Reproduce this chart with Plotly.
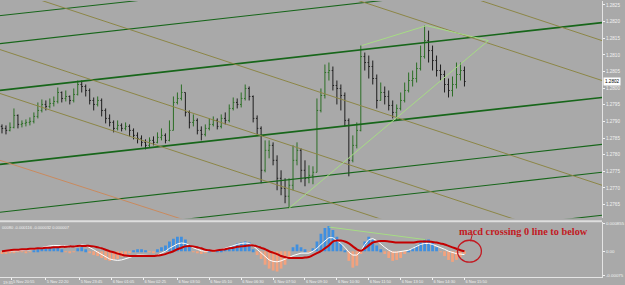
import pandas as pd
import plotly.graph_objects as go

# ---------------- data ----------------
bar_start = "2012-11-05 20:30"   # 10-minute bars
first_open = 1.27885
closes = [
    1.27879, 1.27873, 1.27882, 1.27918, 1.27891, 1.27894, 1.27897, 1.27900, 1.27915, 1.27933,
    1.27951, 1.27945, 1.27954, 1.27960, 1.27987, 1.27969, 1.27975, 1.27963, 1.27981, 1.28011,
    1.28005, 1.27993, 1.27963, 1.27951, 1.27963, 1.27933, 1.27909, 1.27897, 1.27879, 1.27888,
    1.27879, 1.27885, 1.27873, 1.27858, 1.27849, 1.27837, 1.27828, 1.27843, 1.27837, 1.27852,
    1.27858, 1.27843, 1.27873, 1.27957, 1.27969, 1.27987, 1.27927, 1.27897, 1.27903, 1.27873,
    1.27861, 1.27879, 1.27891, 1.27903, 1.27885, 1.27909, 1.27903, 1.27939, 1.27957, 1.27951,
    1.27969, 1.27999, 1.27975, 1.27909, 1.27879, 1.27753, 1.27813, 1.27828, 1.27783, 1.27729,
    1.27699, 1.27675, 1.27708, 1.27783, 1.27813, 1.27753, 1.27729, 1.27738, 1.27747, 1.27933,
    1.27978, 1.28047, 1.28053, 1.28008, 1.27999, 1.27978, 1.27903, 1.27783, 1.27828, 1.27873,
    1.28095, 1.28077, 1.28065, 1.28029, 1.27963, 1.27987, 1.27975, 1.27948, 1.27927, 1.27939,
    1.27963, 1.27993, 1.28023, 1.28029, 1.28059, 1.28095, 1.28143, 1.28113, 1.28083, 1.28053,
    1.28041, 1.28011, 1.27993, 1.28011, 1.28041, 1.28053, 1.28020,
]
highs = [
    1.27891, 1.27888, 1.27897, 1.27939, 1.27921, 1.27903, 1.27906, 1.27912, 1.27927, 1.27957,
    1.27966, 1.27963, 1.27969, 1.27975, 1.28002, 1.27990, 1.27993, 1.27978, 1.27999, 1.28023,
    1.28023, 1.28011, 1.27999, 1.27972, 1.27975, 1.27969, 1.27939, 1.27921, 1.27903, 1.27903,
    1.27894, 1.27897, 1.27891, 1.27879, 1.27867, 1.27858, 1.27846, 1.27852, 1.27855, 1.27867,
    1.27879, 1.27864, 1.27903, 1.27975, 1.27987, 1.28011, 1.27987, 1.27933, 1.27921, 1.27909,
    1.27885, 1.27891, 1.27909, 1.27915, 1.27909, 1.27921, 1.27927, 1.27951, 1.27972, 1.27969,
    1.27987, 1.28011, 1.28005, 1.27978, 1.27918, 1.27885, 1.27843, 1.27843, 1.27837, 1.27798,
    1.27753, 1.27729, 1.27729, 1.27828, 1.27837, 1.27819, 1.27783, 1.27768, 1.27765, 1.27969,
    1.27999, 1.28071, 1.28077, 1.28065, 1.28023, 1.28011, 1.27987, 1.27909, 1.27858, 1.27897,
    1.28128, 1.28107, 1.28098, 1.28083, 1.28041, 1.28017, 1.28005, 1.27993, 1.27963, 1.27951,
    1.27987, 1.28017, 1.28047, 1.28053, 1.28077, 1.28128, 1.28188, 1.28173, 1.28128, 1.28098,
    1.28071, 1.28053, 1.28029, 1.28035, 1.28077, 1.28077, 1.28065,
]
lows = [
    1.27864, 1.27861, 1.27870, 1.27879, 1.27879, 1.27882, 1.27885, 1.27888, 1.27894, 1.27909,
    1.27927, 1.27933, 1.27939, 1.27945, 1.27954, 1.27957, 1.27960, 1.27951, 1.27957, 1.27978,
    1.27987, 1.27975, 1.27951, 1.27933, 1.27945, 1.27915, 1.27894, 1.27885, 1.27867, 1.27873,
    1.27870, 1.27873, 1.27855, 1.27846, 1.27834, 1.27825, 1.27816, 1.27822, 1.27828, 1.27834,
    1.27843, 1.27834, 1.27840, 1.27873, 1.27951, 1.27963, 1.27915, 1.27879, 1.27885, 1.27861,
    1.27843, 1.27855, 1.27873, 1.27885, 1.27876, 1.27879, 1.27891, 1.27897, 1.27933, 1.27939,
    1.27942, 1.27963, 1.27963, 1.27897, 1.27861, 1.27714, 1.27747, 1.27789, 1.27768, 1.27693,
    1.27678, 1.27654, 1.27639, 1.27693, 1.27768, 1.27717, 1.27705, 1.27714, 1.27711, 1.27747,
    1.27927, 1.27969, 1.28023, 1.27993, 1.27951, 1.27933, 1.27885, 1.27735, 1.27777, 1.27819,
    1.27870, 1.28053, 1.28029, 1.28011, 1.27939, 1.27963, 1.27951, 1.27933, 1.27909, 1.27903,
    1.27933, 1.27957, 1.27987, 1.28005, 1.28017, 1.28053, 1.28089, 1.28077, 1.28053, 1.28035,
    1.28023, 1.27987, 1.27972, 1.27975, 1.27999, 1.28023, 1.28005,
]
macd_hist = [
    -0.00009, -0.00009, -0.00006, -0.00006, -0.00003, -0.00003, -0.00006, -0.00003, 0.000015, 0.00006,
    0.00009, 0.00012, 0.00012, 0.00009, 0.00012, 0.00006, -0.00003, -0.00006, -0.00003, 0.00009,
    0.00012, 0.00006, -0.00006, -0.00012, -0.00015, -0.00021, -0.00027, -0.0003, -0.00027, -0.00024,
    -0.00018, -0.00012, -0.00006, 0.00003, 0.00006, 0.00006, 0.00003, -0.00003, -0.00006, 0.00006,
    0.00012, 0.00018, 0.0003, 0.00039, 0.00045, 0.00045, 0.00036, 0.00018, -0.00003, -0.00006,
    -0.00009, -0.00006, 0.00003, -0.00003, 0.00003, 0.00006, 0.00009, 0.00012, 0.00018, 0.00024,
    0.00027, 0.0003, 0.00027, 0.00006, -0.00012, -0.00024, -0.00042, -0.00054, -0.0006, -0.00063,
    -0.00054, -0.00042, -0.00018, 0.00012, 0.00021, 0.00012, 0.00006, -0.00003, 0.00009, 0.0003,
    0.00054, 0.00072, 0.00078, 0.00066, 0.00045, 0.00024, 0.00001, -0.0003, -0.00051, -0.00045,
    -0.00009, 0.0003, 0.00045, 0.00036, 0.00018, 0.00006, -0.00009, -0.00021, -0.0003, -0.00027,
    -0.00021, -0.00009, 0.00003, 0.00009, 0.00018, 0.00027, 0.00036, 0.00036, 0.00027, 0.00012,
    -0.00003, -0.00015, -0.00027, -0.00033, -0.00027, -0.00018, -0.00009,
]
macd_main = [
    0.0, 0.0, 0.0, 0.000015, 0.000015, 0.00003, 0.00003, 0.000045, 0.00006, 0.00009,
    0.00012, 0.00015, 0.000165, 0.00018, 0.00018, 0.00018, 0.000165, 0.00015, 0.00015, 0.00018,
    0.000195, 0.00018, 0.00012, 0.000045, -0.00003, -0.000105, -0.00018, -0.00024, -0.00027, -0.000285,
    -0.00027, -0.00024, -0.000195, -0.00015, -0.00012, -0.00012, -0.00012, -0.000135, -0.00015, -0.00012,
    -0.00006, 0.0, 0.00009, 0.000165, 0.000225, 0.000255, 0.00024, 0.00018, 0.000105, 0.00006,
    0.000015, 0.0, 0.000015, 0.000015, 0.00003, 0.00006, 0.00009, 0.000135, 0.00018, 0.00021,
    0.00024, 0.000255, 0.00024, 0.000165, 0.00006, -0.00006, -0.00018, -0.00027, -0.000315, -0.00033,
    -0.0003, -0.000255, -0.000195, -0.000135, -0.00009, -0.00006, -0.00006, -0.00006, 0.0, 0.00009,
    0.00021, 0.00033, 0.00042, 0.00042, 0.00033, 0.00024, 0.00012, -0.00003, -0.00012, -0.00012,
    0.0, 0.00021, 0.00036, 0.00039, 0.00033, 0.00021, 0.00012, 0.00003, -0.00003, -0.00003,
    -0.000015, 0.0, 0.00003, 0.00009, 0.00015, 0.00021, 0.00024, 0.00024, 0.00021, 0.000165,
    0.00012, 0.00006, 0.0, -0.000045, -0.000075, -0.00009, -0.000105,
]
macd_signal = [
    0.0, 0.000015, 0.00003, 0.000045, 0.000045, 0.00006, 0.00006, 0.000075, 0.000075, 0.00009,
    0.00009, 0.000105, 0.000105, 0.00012, 0.00012, 0.000135, 0.000135, 0.00015, 0.00015, 0.000165,
    0.000165, 0.000165, 0.000165, 0.00015, 0.00012, 0.00009, 0.000045, 0.0, -0.00003, -0.000075,
    -0.000105, -0.000135, -0.00015, -0.00015, -0.00015, -0.00015, -0.00015, -0.00015, -0.00015, -0.000135,
    -0.00012, -0.00009, -0.000045, 0.0, 0.00006, 0.000105, 0.00015, 0.000165, 0.00015, 0.00012,
    0.00009, 0.000045, 0.00003, 0.000015, 0.00003, 0.000045, 0.00006, 0.00009, 0.000105, 0.000135,
    0.00015, 0.000165, 0.00018, 0.00018, 0.00015, 0.000105, 0.00006, 0.0, -0.000045, -0.00009,
    -0.00015, -0.00018, -0.00021, -0.00021, -0.00021, -0.00021, -0.000195, -0.00018, -0.00012, -0.00006,
    0.0, 0.00009, 0.00018, 0.0003, 0.00033, 0.00033, 0.0003, 0.00024, 0.00015, 0.00006,
    0.000015, 0.00009, 0.00018, 0.00027, 0.0003, 0.000315, 0.000315, 0.0003, 0.000285, 0.00027,
    0.00027, 0.00027, 0.00027, 0.00027, 0.000285, 0.0003, 0.0003, 0.0003, 0.000285, 0.00027,
    0.00024, 0.00021, 0.000165, 0.00012, 0.000075, 0.00003, 0.0,
]

price_ticks = [1.2765, 1.2770, 1.2775, 1.2780, 1.2785, 1.2790, 1.2795, 1.2800,
               1.2805, 1.2810, 1.2815, 1.2820, 1.2825]
macd_ticks = [0.000855, 0.0, -0.00075]
macd_tick_text = ["0.000855", "0.00", "-0.00075"]
time_ticks = ["2012-11-05 20:55", "2012-11-05 22:20", "2012-11-05 23:45", "2012-11-06 01:05",
              "2012-11-06 02:25", "2012-11-06 03:50", "2012-11-06 05:10", "2012-11-06 06:30",
              "2012-11-06 07:50", "2012-11-06 09:10", "2012-11-06 10:30", "2012-11-06 11:50",
              "2012-11-06 13:10", "2012-11-06 14:30", "2012-11-06 15:50"]
time_tick_text = ["5 Nov 20:55", "5 Nov 22:20", "5 Nov 23:45", "6 Nov 01:05", "6 Nov 02:25",
                  "6 Nov 03:50", "6 Nov 05:10", "6 Nov 06:30", "6 Nov 07:50", "6 Nov 09:10",
                  "6 Nov 10:30", "6 Nov 11:50", "6 Nov 13:10", "6 Nov 14:30", "6 Nov 15:50"]
first_cut_label = "19:35"
last_price = 1.2802
macd_header = "00080 -0.000116 -0.000032 0.000007"
note_text = "macd crossing 0 line to below"

# chart drawings: (time0, price0, time1, price1)
line_t0, line_t1 = "2012-11-05 20:25", "2012-11-06 21:35"
dark_channel = [(1.28218, 1.28416, 1.0), (1.28134, 1.28338, 1.1), (1.27993, 1.28197, 1.7),
                (1.27771, 1.27972, 1.7), (1.27627, 1.27831, 1.1), (1.27543, 1.27747, 1.1),
                (1.27414, 1.27618, 1.1)]
olive_channel = [(1.28740, 1.28143), (1.28617, 1.28023), (1.28305, 1.27708),
                 (1.28116, 1.27519), (1.27984, 1.27387)]
orange_line = (1.27783, 1.27198)
wedge_lines = [("2012-11-06 08:30", 1.27639, "2012-11-06 16:50", 1.28143),
               ("2012-11-06 11:32:30", 1.28128, "2012-11-06 14:15", 1.28188),
               ("2012-11-06 14:15", 1.28188, "2012-11-06 16:50", 1.28143)]
macd_trend = ("2012-11-06 10:10", 0.00075, "2012-11-06 14:12", 0.00036)

# ---------------- figure ----------------
BG = "#a9a9a9"
TXT = "#f2f2f2"
RED = "#c21a22"
times = pd.date_range(bar_start, periods=len(closes), freq="10min")
opens = [first_open] + closes[:-1]

fig = go.Figure()

for p0, p1, w in dark_channel:
    fig.add_trace(go.Scatter(x=[line_t0, line_t1], y=[p0, p1], mode="lines",
                             line=dict(color="#17661a", width=w), hoverinfo="skip"))
for p0, p1 in olive_channel:
    fig.add_trace(go.Scatter(x=[line_t0, line_t1], y=[p0, p1], mode="lines",
                             line=dict(color="#8c8646", width=1), hoverinfo="skip"))
fig.add_trace(go.Scatter(x=[line_t0, line_t1], y=list(orange_line), mode="lines",
                         line=dict(color="#c98a5e", width=1), hoverinfo="skip"))

fig.add_trace(go.Ohlc(x=times, open=opens, high=highs, low=lows, close=closes,
                      increasing=dict(line=dict(color="#2b6e25", width=1)),
                      decreasing=dict(line=dict(color="#1d1d1d", width=1)),
                      tickwidth=0.3, hoverinfo="skip"))

for t0, p0, t1, p1 in wedge_lines:
    fig.add_trace(go.Scatter(x=[t0, t1], y=[p0, p1], mode="lines",
                             line=dict(color="#a6dc84", width=1), hoverinfo="skip"))

# MACD panel
hist_colors = ["#3f8fe0" if v >= 0 else "#f2a27e" for v in macd_hist]
fig.add_trace(go.Bar(x=times, y=macd_hist, marker=dict(color=hist_colors, line=dict(width=0)),
                     yaxis="y2", hoverinfo="skip"))
fig.add_trace(go.Scatter(x=times, y=macd_main, mode="lines", yaxis="y2",
                         line=dict(color="#ffffff", width=1), hoverinfo="skip"))
fig.add_trace(go.Scatter(x=times, y=macd_signal, mode="lines", yaxis="y2",
                         line=dict(color="#c40000", width=2, shape="spline"), hoverinfo="skip"))
fig.add_trace(go.Scatter(x=[macd_trend[0], macd_trend[2]], y=[macd_trend[1], macd_trend[3]],
                         mode="lines", yaxis="y2", line=dict(color="#a6dc84", width=1),
                         hoverinfo="skip"))

H = 277.0  # plot-area height in px
fig.update_layout(
    width=625, height=285, autosize=False,
    margin=dict(l=0, r=21, t=0, b=8),
    paper_bgcolor=BG, plot_bgcolor=BG,
    showlegend=False, bargap=0.3,
    xaxis=dict(type="date", range=[line_t0, line_t1], anchor="y2",
               rangeslider=dict(visible=False), showgrid=False, zeroline=False,
               tickvals=time_ticks, ticktext=time_tick_text,
               ticklabelposition="outside right", ticks="outside", ticklen=2,
               tickcolor=TXT, tickfont=dict(family="Liberation Sans", size=4, color=TXT),
               showline=True, linecolor="#e4e4e4", linewidth=1),
    yaxis=dict(domain=[1 - 218 / H, 1], range=[1.27609, 1.28262], side="right",
               anchor="x", showgrid=False, zeroline=False, tickvals=price_ticks,
               tickformat=".4f", ticks="outside", ticklen=2, tickcolor=TXT,
               tickfont=dict(family="Liberation Sans", size=4.6, color=TXT),
               showline=True, linecolor="#e4e4e4", linewidth=1),
    yaxis2=dict(domain=[0, 55 / H], range=[-0.0008, 0.0009], side="right", anchor="x",
                showgrid=False, zeroline=False, tickvals=macd_ticks, ticktext=macd_tick_text,
                ticks="outside", ticklen=2, tickcolor=TXT,
                tickfont=dict(family="Liberation Sans", size=4.4, color=TXT),
                showline=True, linecolor="#e4e4e4", linewidth=1),
)

# separator between panels
fig.add_shape(type="line", xref="paper", yref="paper", x0=0, x1=1,
              y0=1 - 221 / H, y1=1 - 221 / H, line=dict(color="#dedede", width=2))

# circle + pointer
fig.add_shape(type="circle", xref="x", yref="y2", x0="2012-11-06 15:32:30", x1="2012-11-06 16:32:30",
              y0=-0.00034, y1=0.00034, line=dict(color=RED, width=1.3))
fig.add_shape(type="line", xref="x", yref="y2", x0="2012-11-06 16:10", x1="2012-11-06 16:05",
              y0=0.00053, y1=0.00031, line=dict(color=RED, width=1))

fig.add_annotation(x="2012-11-06 15:32:30", y=0.00062, xref="x", yref="y2",
                   text="<b>" + note_text + "</b>",
                   showarrow=False, xanchor="left", yanchor="middle",
                   font=dict(family="Liberation Serif", size=10.3, color=RED))
fig.add_annotation(x=0, y=1 - 227 / H, xref="paper", yref="paper", text=macd_header,
                   showarrow=False, xanchor="left", yanchor="middle",
                   font=dict(family="Liberation Sans", size=4, color=TXT))
fig.add_annotation(x=1, y=last_price, xref="paper", yref="y", text=f"{last_price:.4f}",
                   showarrow=False, xanchor="left", yanchor="middle", xshift=1,
                   bgcolor="#ffffff", borderpad=1,
                   font=dict(family="Liberation Sans", size=4.6, color="#000000"))
fig.add_annotation(x=0, y=-6 / H, xref="paper", yref="paper", text=first_cut_label,
                   showarrow=False, xanchor="left", yanchor="middle", xshift=1,
                   font=dict(family="Liberation Sans", size=4, color=TXT))

fig.write_html("out.html")
